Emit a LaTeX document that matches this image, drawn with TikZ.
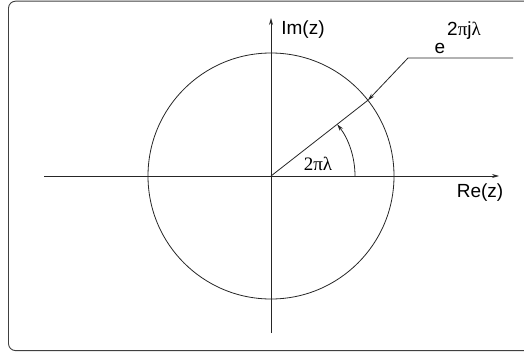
\documentclass[tikz,border=0pt]{standalone}
\usepackage{fontspec}
\setmainfont{Liberation Sans}
\newfontfamily\grk{Liberation Serif}
\usetikzlibrary{arrows.meta}
\begin{document}
\begin{tikzpicture}[x=1pt,y=-1pt,
  ln/.style={line width=0.8pt,black!85},
  tip/.style={-{Stealth[length=7pt,width=4pt]}},
  lbl/.style={inner sep=0pt,font=\fontsize{19}{19}\selectfont}]
\useasboundingbox (0,0) rectangle (524,353);
\draw[line width=0.9pt,black!75,rounded corners=7pt] (8.5,1.2) rectangle (540,350.6);
\coordinate (O) at (271,176);
\node[ln,draw,circle,minimum size=246pt,inner sep=0pt,outer sep=0pt] (circ) at (O) {};
\coordinate (xl) at (44,176);
\coordinate (xr) at (499,176);
\coordinate (yb) at (271,333);
\coordinate (yt) at (271,18);
\draw[ln,tip] (xl) -- (xr);
\draw[ln,tip] (yb) -- (yt);
\coordinate (P) at (circ.38);
\draw[ln] (O) -- (P);
\draw[ln,tip] (355,176) arc[start angle=0,end angle=-38,radius=84];
\coordinate (L1) at (513,58);
\coordinate (L2) at (408,58);
\draw[ln,tip] (L1) -- (L2) -- (P);
\node[lbl] (im) at (303,30) {Im(z)};
\node[lbl] (re) at (480,193) {Re(z)};
\node[lbl] (ang) at (318,164) {\grk 2πλ};
\node[lbl] (e) at (440,48) {e};
\node[lbl,anchor=west] (ex) at (447,31) {2{\grk π}j{\grk λ}};
\end{tikzpicture}
\end{document}
